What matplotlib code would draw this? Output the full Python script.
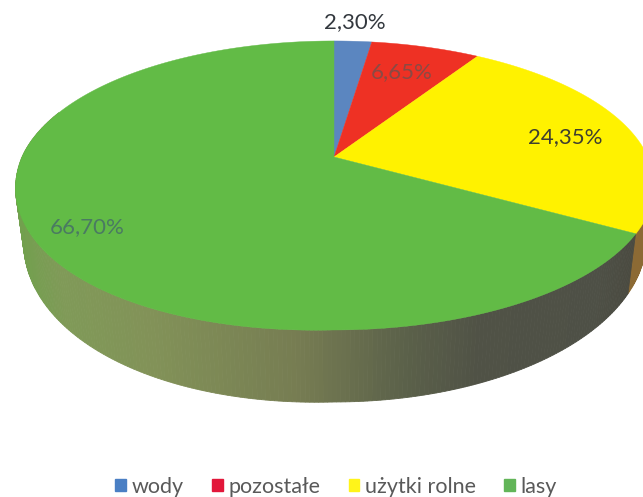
"""Kolowy wykres 3D: struktura uzytkowania gruntow."""
import matplotlib
matplotlib.use("Agg")
import matplotlib.pyplot as plt
from matplotlib.patches import Patch
import numpy as np

plt.rcParams["font.family"] = ["Lato", "DejaVu Sans"]

categories = ["wody", "pozostałe", "użytki rolne", "lasy"]
values = [2.30, 6.65, 24.35, 66.70]
labels = ["2,30%", "6,65%", "24,35%", "66,70%"]
colors = ["#5b86c0", "#ee3124", "#fff200", "#62bb46"]
legend_colors = ["#4a7fc4", "#e2173a", "#fff41a", "#62b558"]
label_colors = ["#33383e", "#8a4a44", "#3f3f30", "#4a7a62"]
label_pos = [(355, 22), (402, 72), (565, 137), (87, 227)]

# rzut perspektywiczny tarczy na piksele obrazka
CX, CY = 334, 157
A, B, K = 314, 138.9, 0.197

# cieniowanie boku (pozycja x w px -> kolor)
side_x = [15, 60, 150, 300, 400, 480, 600, 636]
side_rgb = np.array([
    (0x72, 0xa0, 0x4e), (0x80, 0x9a, 0x58), (0x82, 0x92, 0x58), (0x76, 0x7c, 0x52),
    (0x5c, 0x62, 0x4a), (0x50, 0x52, 0x46), (0x4e, 0x50, 0x46), (0x4a, 0x4a, 0x40),
]) / 255
BROWN = "#8c6a34"


def project(theta):
    """theta w stopniach, zgodnie z zegarem od gory."""
    t = np.radians(theta)
    u, v = np.sin(t), np.cos(t)
    w = 1 + K * v
    # lewy dol oryginalu jest nieco pelniejszy niz czysta elipsa
    left = np.clip(-u, 0, 1)
    low = np.clip(-v, 0, 1)
    return CX + A * u / w + 2 * left**4, CY - B * v / w + 10 * left * low


def bottom_ring(x, y):
    # dolna krawedz: lekko wezsza, mniejsza glebokosc z tylu
    return CX + (x - CX) * 0.975, y + 72 - (330 - y) * 0.13


fig = plt.figure(figsize=(6.43, 4.97), dpi=100)
ax = fig.add_axes([0, 0, 1, 1])
ax.set_xlim(0, 643)
ax.set_ylim(497, 0)
ax.axis("off")

edges = np.cumsum([0] + values) * 3.6

# bok tarczy: paski od prawej krawedzi do lewej
thetas = np.linspace(90, 290, 300)
x, y = project(thetas)
xb, yb = bottom_ring(x, y)
for i in range(len(thetas) - 1):
    xm = (x[i] + x[i + 1]) / 2
    c = [np.interp(xm, side_x, side_rgb[:, j]) for j in range(3)]
    if thetas[i] < edges[3]:
        c = BROWN
    ax.fill([x[i], x[i + 1], xb[i + 1], xb[i]],
            [y[i], y[i + 1], yb[i + 1], yb[i]],
            color=c, lw=0.6, zorder=1)

# gorna powierzchnia
for start, stop, col in zip(edges[:-1], edges[1:], colors):
    th = np.linspace(start, stop, 200)
    px, py = project(th)
    ax.fill(np.r_[CX, px], np.r_[CY, py], color=col, lw=0.3, zorder=2)

for txt, (lx, ly), col in zip(labels, label_pos, label_colors):
    ax.text(lx, ly, txt, ha="center", va="center", fontsize=16, color=col, zorder=3)

handles = [Patch(color=c, label=n) for c, n in zip(legend_colors, categories)]
ax.legend(handles=handles, loc="center", bbox_to_anchor=(336 / 643, 1 - 487 / 497), ncol=4,
          frameon=False, fontsize=15.5, labelcolor="#595959", handlelength=0.5, handleheight=0.5,
          handletextpad=0.25, columnspacing=1.33, borderpad=0, borderaxespad=0)

fig.savefig("out.png", dpi=100)
